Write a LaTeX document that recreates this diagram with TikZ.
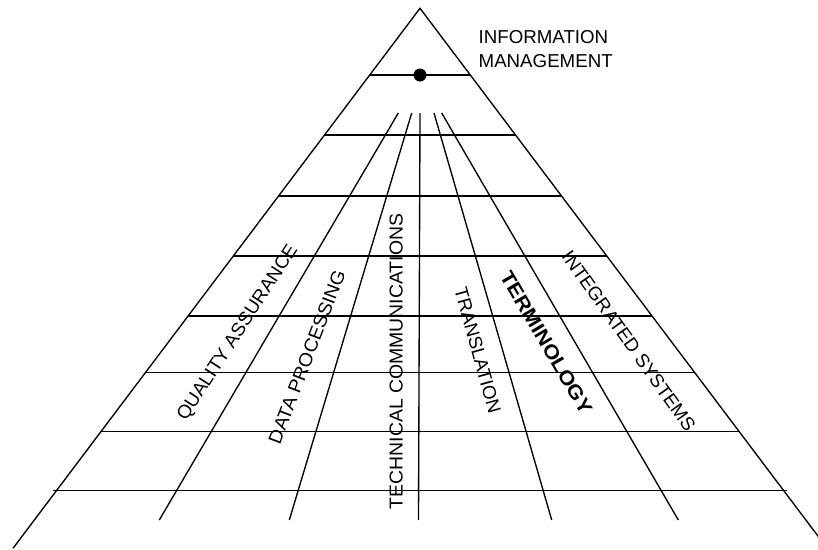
\documentclass[tikz,border=0pt]{standalone}
\usepackage{fontspec}
\setmainfont{Liberation Sans}
\begin{document}
\begin{tikzpicture}[x=1pt,y=-1pt,
  line width=1.35pt, line join=miter,
  field/.style={inner sep=0pt, text height=13.4pt, text depth=0pt,
    font=\fontsize{18.7}{22}\selectfont},
  boldfield/.style={field, font=\fontsize{19.8}{22}\selectfont\bfseries, text height=14.2pt},
  title/.style={inner sep=0pt, align=left, anchor=north west,
    font=\fontsize{18.7}{23.5}\selectfont}]
  \useasboundingbox (0,0) rectangle (818,549);
  \clip (0,0) rectangle (818,549);

  % pyramid outline
  \coordinate (apex) at (420,8.3);
  \coordinate (baseL) at (13,548.3);
  \coordinate (baseR) at (827.2,548.3);
  \draw (baseL) -- (apex) -- (baseR);

  % horizontal levels, each spanning the pyramid at its height
  \foreach \y in {75,135,196,256,316,372.5,431.5} {
    \draw ({420-0.7538*(\y-8.3)},\y) -- ({420+0.7538*(\y-8.3)},\y);
  }
  \draw ({420-0.7538*(490.5-8.3)-4},490.5) -- ({420+0.7538*(490.5-8.3)+4},490.5);

  % top node of the pyramid
  \fill (420,75) circle (6.5);

  % fan of disciplines below the top node
  \foreach \xt/\xb in {398.3/159.3, 411.7/289.3, 420/418.5, 434/551.7, 441.7/678.3} {
    \draw (\xt,113) -- (\xb,520);
  }

  % labels
  \node[title] (info) at (478,30) {INFORMATION\\MANAGEMENT};
  \node[field, rotate=57] (qa) at (236.5,332) {\scalebox{1.02}[1]{QUALITY ASSURANCE}};
  \node[field, rotate=69] (dp) at (306.7,356.7) {\scalebox{1.04}[1]{DATA PROCESSING}};
  \node[field, rotate=90] (tc) at (396,361.5) {\scalebox{1.04}[1]{TECHNICAL COMMUNICATIONS}};
  \node[field, rotate=-74.5] (tr) at (478,350) {TRANSLATION};
  \node[boldfield, rotate=-59.6] (term) at (546.5,342.5) {\scalebox{1.1}[1]{TERMINOLOGY}};
  \node[field, rotate=-54.6] (is) at (629,341) {\scalebox{1.01}[1]{INTEGRATED SYSTEMS}};
\end{tikzpicture}
\end{document}
